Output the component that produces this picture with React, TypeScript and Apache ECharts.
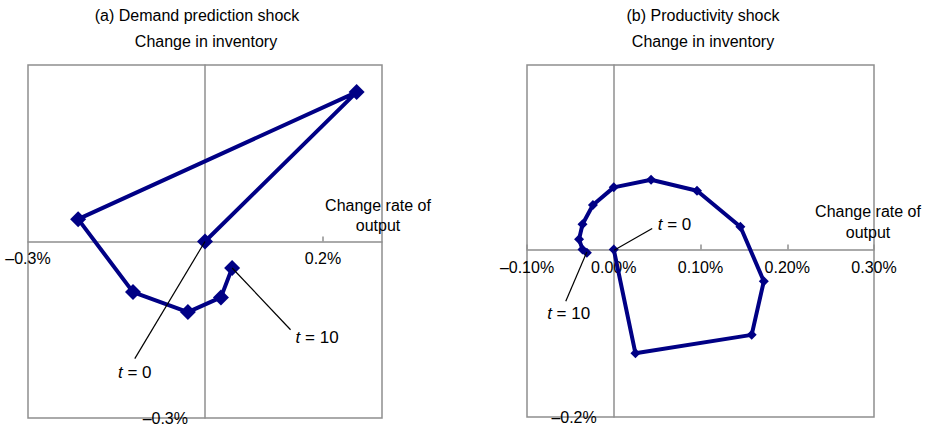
import React, { useEffect, useRef } from "react";
import * as echarts from "echarts";

// Panel (a): demand prediction shock (values in %)
const demandX = [0, 0.257, -0.215, -0.122, -0.029, 0.027, 0.046];
const demandY = [0, 0.254, 0.038, -0.086, -0.12, -0.095, -0.045];
// Panel (b): productivity shock (values in %)
const prodX = [0, 0.025, 0.159, 0.173, 0.146, 0.096, 0.043, 0.0, -0.024, -0.036, -0.04, -0.036, -0.031];
const prodY = [0, -0.124, -0.102, -0.038, 0.027, 0.07, 0.083, 0.074, 0.053, 0.03, 0.012, 0.0, -0.004];

const leftXTicks = [-0.3, 0.2];
const leftYTicks = [-0.3];
const rightXTicks = [-0.1, 0, 0.1, 0.2, 0.3];
const rightYTicks = [-0.2];

const leftXRange = [-0.3, 0.3];
const leftYRange = [-0.3, 0.3];
const rightXRange = [-0.1, 0.3];
const rightYRange = [-0.2, 0.22];

// annotation leader lines [fromX, fromY, toX, toY] and label anchors
const leftT0Line = [0, 0, -0.119, -0.199];
const leftT0Label = [-0.119, -0.222];
const leftT10Line = [0.046, -0.045, 0.145, -0.15];
const leftT10Label = [0.19, -0.163];
const rightT0Line = [0.0004, -0.001, 0.0443, 0.025];
const rightT0Label = [0.07, 0.03];
const rightT10Line = [-0.031, -0.003, -0.0553, -0.062];
const rightT10Label = [-0.052, -0.077];

const titlesA = ["(a) Demand prediction shock", "Change in inventory"];
const titlesB = ["(b) Productivity shock", "Change in inventory"];
const axisName = "Change rate of\noutput";

const FONT = "'Liberation Sans', Arial, sans-serif";
const NAVY = "#000085";
const GRAY = "#8f8f8f";

const fmt = (digits: number) => (v: number) => {
  const s = Math.abs(v).toFixed(digits) + "%";
  return v < -1e-9 ? "\u2013" + s : s;
};

const zip = (xs: number[], ys: number[]) => xs.map((x, i) => [x, ys[i]]);

// distance (px) from the min edge of a range to its zero
const zeroOffset = (range: number[], size: number) => ((0 - range[0]) / (range[1] - range[0])) * size;

const G0 = { left: 28, top: 65, width: 354, height: 353 };
const G1 = { left: 527, top: 65, width: 347, height: 352 };

export default function App() {
  const ref = useRef<HTMLDivElement>(null);
  useEffect(() => {
    if (!ref.current) return;
    const chart = echarts.init(ref.current, undefined, { renderer: "svg" });

    const axisLine = { onZero: false, lineStyle: { color: GRAY, width: 1.5 } };
    const labelStyle = { color: "#000", fontSize: 16, fontFamily: FONT };

    const mkSeries = (
      idx: number,
      data: number[][],
      size: number,
      lines: number[][],
      labels: { pos: number[]; t: string }[]
    ) => ({
      type: "line",
      xAxisIndex: idx,
      yAxisIndex: idx,
      data,
      symbol: "diamond",
      symbolSize: size,
      lineStyle: { color: NAVY, width: 4 },
      itemStyle: { color: NAVY },
      z: 3,
      markLine: {
        silent: true,
        symbol: ["none", "none"],
        lineStyle: { color: "#000", width: 1.2, type: "solid" },
        label: { show: false },
        data: lines.map((l) => [{ coord: [l[0], l[1]] }, { coord: [l[2], l[3]] }]),
      },
      markPoint: {
        silent: true,
        symbol: "circle",
        symbolSize: 0,
        data: labels.map((l) => ({
          coord: l.pos,
          label: {
            show: true,
            position: "inside",
            formatter: "{i|t} = " + l.t,
            color: "#000",
            fontSize: 17,
            fontFamily: FONT,
            rich: { i: { fontStyle: "italic", fontSize: 17, fontFamily: FONT, color: "#000" } },
          },
        })),
      },
    });

    const textEl = (x: number, y: number, text: string, lh = 20) => ({
      type: "text",
      x,
      y,
      style: {
        text,
        align: "center",
        verticalAlign: "middle",
        fontSize: 16,
        fontFamily: FONT,
        fill: "#000",
        lineHeight: lh,
      },
    });

    const gridBase = { show: true, borderColor: GRAY, borderWidth: 1.5, containLabel: false, outerBoundsMode: "none" };

    chart.setOption({
      animation: false,
      grid: [
        { ...G0, ...gridBase },
        { ...G1, ...gridBase },
      ],
      xAxis: [
        {
          gridIndex: 0,
          type: "value",
          position: "bottom",
          offset: -zeroOffset(leftYRange, G0.height),
          min: leftXRange[0],
          max: leftXRange[1],
          axisLine,
          axisTick: { show: true, inside: true, length: 5, customValues: [0.2], lineStyle: { color: GRAY, width: 1.5 } },
          axisLabel: { ...labelStyle, customValues: leftXTicks, formatter: fmt(1), margin: 9 },
          splitLine: { show: false },
        },
        {
          gridIndex: 1,
          type: "value",
          position: "bottom",
          offset: -zeroOffset(rightYRange, G1.height),
          min: rightXRange[0],
          max: rightXRange[1],
          axisLine,
          axisTick: { show: true, inside: true, length: 5, customValues: rightXTicks, lineStyle: { color: GRAY, width: 1.5 } },
          axisLabel: { ...labelStyle, customValues: rightXTicks, formatter: fmt(2), margin: 10 },
          splitLine: { show: false },
        },
      ],
      yAxis: [
        {
          gridIndex: 0,
          type: "value",
          position: "left",
          offset: -zeroOffset(leftXRange, G0.width),
          min: leftYRange[0],
          max: leftYRange[1],
          axisLine,
          axisTick: { show: false },
          axisLabel: { ...labelStyle, customValues: leftYTicks, formatter: fmt(1), margin: 17 },
          splitLine: { show: false },
        },
        {
          gridIndex: 1,
          type: "value",
          position: "left",
          offset: -zeroOffset(rightXRange, G1.width),
          min: rightYRange[0],
          max: rightYRange[1],
          axisLine,
          axisTick: { show: false },
          axisLabel: { ...labelStyle, customValues: rightYTicks, formatter: fmt(1), margin: 17 },
          splitLine: { show: false },
        },
      ],
      series: [
        mkSeries(0, zip(demandX, demandY), 16, [leftT0Line, leftT10Line], [
          { pos: leftT0Label, t: "0" },
          { pos: leftT10Label, t: "10" },
        ]),
        mkSeries(1, zip(prodX, prodY), 10, [rightT0Line, rightT10Line], [
          { pos: rightT0Label, t: "0" },
          { pos: rightT10Label, t: "10" },
        ]),
      ],
      graphic: [
        textEl(197, 15, titlesA[0]),
        textEl(206, 41, titlesA[1]),
        textEl(703, 15, titlesB[0]),
        textEl(703, 41, titlesB[1]),
        textEl(378, 215, axisName, 20),
        textEl(868, 222, axisName, 21),
      ],
    });

    return () => chart.dispose();
  }, []);

  return <div ref={ref} style={{ position: "absolute", left: 0, top: 0, width: 929, height: 426 }} />;
}
